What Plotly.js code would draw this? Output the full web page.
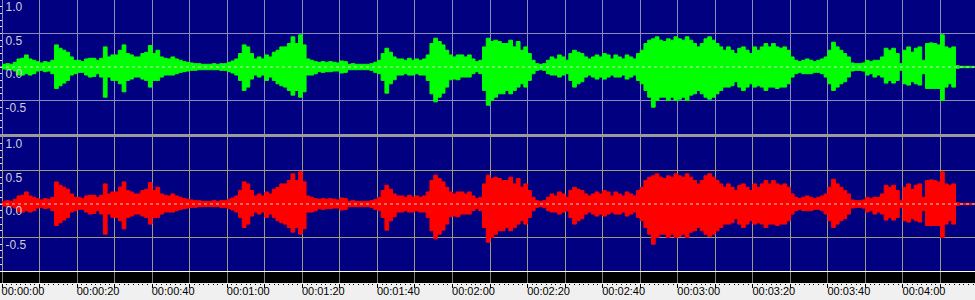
<!DOCTYPE html>
<html><head><meta charset="utf-8">
<script src="https://cdn.plot.ly/plotly-3.0.1.min.js"></script>
<style>html,body{margin:0;padding:0;background:#f0f0f0;overflow:hidden}</style>
</head><body><div id="chart" style="width:975px;height:300px"></div>
<script>
// envelope sample spacing (seconds)
const BIN = 1;
const leftUpper = [
0.04,0.05,0.04,0.07,0.12,0.13,0.18,0.12,0.1,0.08,
0.06,0.08,0.07,0.1,0.33,0.28,0.25,0.22,0.15,0.1,
0.1,0.08,0.12,0.13,0.13,0.1,0.13,0.3,0.15,0.18,
0.18,0.25,0.33,0.2,0.18,0.15,0.15,0.2,0.22,0.32,
0.2,0.25,0.15,0.13,0.12,0.15,0.12,0.1,0.08,0.07,
0.06,0.05,0.05,0.04,0.04,0.04,0.05,0.04,0.05,0.05,
0.07,0.09,0.12,0.2,0.33,0.3,0.2,0.12,0.15,0.12,
0.18,0.15,0.22,0.25,0.3,0.3,0.35,0.45,0.35,0.48,
0.33,0.12,0.1,0.08,0.07,0.08,0.07,0.08,0.07,0.06,
0.09,0.08,0.04,0.05,0.04,0.04,0.04,0.04,0.05,0.07,
0.1,0.2,0.28,0.22,0.15,0.12,0.12,0.1,0.13,0.1,
0.12,0.1,0.12,0.18,0.35,0.43,0.38,0.33,0.25,0.18,
0.15,0.18,0.18,0.15,0.18,0.12,0.08,0.1,0.3,0.43,
0.38,0.4,0.38,0.35,0.35,0.4,0.3,0.38,0.25,0.3,
0.2,0.1,0.05,0.04,0.05,0.1,0.15,0.12,0.18,0.15,
0.1,0.2,0.25,0.22,0.2,0.15,0.12,0.15,0.18,0.15,
0.2,0.18,0.12,0.18,0.15,0.12,0.18,0.15,0.12,0.2,
0.25,0.35,0.4,0.42,0.45,0.4,0.38,0.42,0.4,0.45,
0.42,0.4,0.45,0.4,0.35,0.3,0.35,0.42,0.45,0.4,
0.35,0.3,0.25,0.3,0.25,0.2,0.28,0.3,0.25,0.2,
0.3,0.25,0.3,0.35,0.3,0.35,0.3,0.28,0.3,0.25,
0.15,0.1,0.08,0.1,0.12,0.1,0.08,0.1,0.12,0.15,
0.25,0.37,0.3,0.25,0.2,0.15,0.06,0.05,0.05,0.06,
0.1,0.08,0.1,0.1,0.15,0.28,0.25,0.28,0.2,0.05,
0.25,0.3,0.22,0.28,0.3,0.1,0.35,0.36,0.35,0.33,
0.48,0.3,0.28,0.3,0.02,0.01,0.01,0.01,0.01,0.01];
const leftLower = [
-0.03,-0.04,-0.04,-0.06,-0.12,-0.12,-0.1,-0.12,-0.1,-0.06,
-0.05,-0.07,-0.06,-0.1,-0.32,-0.28,-0.24,-0.2,-0.12,-0.1,
-0.08,-0.08,-0.12,-0.15,-0.14,-0.1,-0.15,-0.45,-0.15,-0.2,
-0.2,-0.25,-0.37,-0.2,-0.18,-0.15,-0.15,-0.18,-0.2,-0.3,
-0.2,-0.2,-0.15,-0.12,-0.12,-0.12,-0.1,-0.08,-0.07,-0.06,
-0.05,-0.05,-0.04,-0.04,-0.04,-0.04,-0.04,-0.04,-0.05,-0.05,
-0.07,-0.09,-0.12,-0.2,-0.35,-0.3,-0.18,-0.12,-0.15,-0.12,
-0.2,-0.15,-0.2,-0.25,-0.28,-0.3,-0.35,-0.42,-0.35,-0.45,
-0.37,-0.12,-0.12,-0.1,-0.07,-0.08,-0.07,-0.07,-0.06,-0.06,
-0.09,-0.08,-0.04,-0.04,-0.04,-0.04,-0.04,-0.04,-0.05,-0.08,
-0.1,-0.2,-0.39,-0.25,-0.19,-0.12,-0.12,-0.1,-0.12,-0.12,
-0.1,-0.12,-0.12,-0.2,-0.4,-0.52,-0.45,-0.39,-0.3,-0.19,
-0.18,-0.19,-0.15,-0.15,-0.15,-0.1,-0.07,-0.1,-0.35,-0.57,
-0.5,-0.45,-0.4,-0.4,-0.35,-0.4,-0.35,-0.3,-0.25,-0.3,
-0.2,-0.1,-0.05,-0.04,-0.05,-0.1,-0.12,-0.12,-0.15,-0.12,
-0.1,-0.2,-0.3,-0.25,-0.22,-0.15,-0.12,-0.15,-0.18,-0.15,
-0.18,-0.15,-0.12,-0.15,-0.15,-0.12,-0.18,-0.15,-0.12,-0.2,
-0.25,-0.35,-0.45,-0.6,-0.5,-0.45,-0.45,-0.5,-0.45,-0.5,
-0.48,-0.45,-0.5,-0.42,-0.4,-0.35,-0.4,-0.45,-0.48,-0.45,
-0.4,-0.35,-0.3,-0.3,-0.28,-0.22,-0.3,-0.35,-0.3,-0.25,
-0.3,-0.28,-0.3,-0.35,-0.3,-0.3,-0.32,-0.3,-0.3,-0.25,
-0.15,-0.1,-0.08,-0.1,-0.1,-0.1,-0.08,-0.08,-0.1,-0.15,
-0.25,-0.35,-0.3,-0.25,-0.22,-0.15,-0.06,-0.05,-0.05,-0.06,
-0.12,-0.1,-0.15,-0.12,-0.15,-0.24,-0.2,-0.24,-0.2,-0.05,
-0.25,-0.27,-0.22,-0.25,-0.27,-0.1,-0.32,-0.32,-0.32,-0.32,
-0.5,-0.3,-0.25,-0.3,-0.02,-0.01,-0.01,-0.01,-0.01,-0.01];
const rightUpper = leftUpper.slice();
const rightLower = leftLower.slice();

const yTickVals = [1, 0.5, 0, -0.5];
const yTickText = ['1.0', '0.5', '0.0', '-0.5'];
const yGridVals = [0.5, -0.5];
const timeMajorTicks = [0,10,20,30,40,50,60,70,80,90,100,110,120,130,140,150,160,170,180,190,200,210,220,230,240,250];
const timeLabelVals = [0,20,40,60,80,100,120,140,160,180,200,220,240];
const timeLabelText = ['00:00:00','00:00:20','00:00:40','00:01:00','00:01:20','00:01:40','00:02:00','00:02:20','00:02:40','00:03:00','00:03:20','00:03:40','00:04:00'];

const timeSec = leftUpper.map((_, i) => i * BIN);

const NAVY = '#000080';
const GREEN = '#00ff00';
const RED = '#ff0000';
const GRID_TOP = '#8c8cb8';
const GRID_BOT = '#9c9c7c';
const XRANGE = [-0.533, 259.19];
const FONT = 'Liberation Sans, Arial, sans-serif';

function envelope(x, up, lo, color, xa, ya) {
  return [
    {x: x, y: up, xaxis: xa, yaxis: ya, type: 'scatter', mode: 'lines',
     line: {color: color, width: 1, shape: 'hv'}, hoverinfo: 'skip', showlegend: false},
    {x: x, y: lo, xaxis: xa, yaxis: ya, type: 'scatter', mode: 'lines', fill: 'tonexty',
     fillcolor: color, line: {color: color, width: 1, shape: 'hv'}, hoverinfo: 'skip', showlegend: false}
  ];
}
function holder(xa, ya) {
  return {x: [XRANGE[0]], y: [-5], xaxis: xa, yaxis: ya, type: 'scatter', mode: 'markers',
          marker: {size: 1, opacity: 0}, hoverinfo: 'skip', showlegend: false};
}

const data = [].concat(
  envelope(timeSec, leftUpper, leftLower, GREEN, 'x', 'y'),
  envelope(timeSec, rightUpper, rightLower, RED, 'x2', 'y2'),
  [holder('x3', 'y3'), holder('x4', 'y3'), holder('x', 'y4'), holder('x2', 'y5')]
);

const H = 300;
const dom = (top, bot) => [1 - bot / H, 1 - top / H];

function panelY(domain, grid, anchor) {
  return {
    domain: domain, anchor: anchor, range: [-1, 1], fixedrange: true,
    tickmode: 'array', tickvals: yGridVals, showticklabels: false, ticks: '',
    showgrid: true, gridcolor: grid, gridwidth: 1, zeroline: false, showline: false
  };
}
function labelY(overlay, anchor) {
  return {
    overlaying: overlay, anchor: anchor, side: 'left', range: [-1, 1], fixedrange: true,
    tickmode: 'array', tickvals: yTickVals, ticktext: yTickText,
    showgrid: false, zeroline: false, showline: false,
    ticks: 'inside', ticklen: 2, tickcolor: '#e0e0e0', tickwidth: 1,
    ticklabelposition: 'inside', ticklabeloverflow: 'allow',
    ticklabelshift: 7, ticklabelstandoff: 3,
    tickfont: {family: FONT, size: 12, color: '#d0d0dc'},
    minor: {dtick: 0.1, ticks: 'inside', ticklen: 2, tickcolor: '#e0e0e0', showgrid: false}
  };
}
function panelX(grid, anchor) {
  return {
    anchor: anchor, range: XRANGE, fixedrange: true,
    tickmode: 'linear', tick0: 0, dtick: 10, showticklabels: false, ticks: '',
    showgrid: true, gridcolor: grid, gridwidth: 1, zeroline: false, showline: false
  };
}

const layout = {
  width: 975, height: 300,
  margin: {l: 0, r: 0, t: 0, b: 0},
  paper_bgcolor: '#f0f0f0', plot_bgcolor: NAVY,
  showlegend: false,
  xaxis: panelX(GRID_TOP, 'y'),
  xaxis2: panelX(GRID_BOT, 'y2'),
  xaxis3: {
    anchor: 'y3', range: XRANGE, fixedrange: true,
    tickmode: 'array', tickvals: timeMajorTicks, showticklabels: false,
    ticks: 'outside', ticklen: 4, tickcolor: '#000', tickwidth: 1,
    showgrid: true, gridcolor: '#808080', zeroline: false, showline: false,
    minor: {dtick: 1.25, ticks: 'outside', ticklen: 1, tickcolor: '#000', showgrid: false}
  },
  xaxis4: {
    overlaying: 'x3', anchor: 'y3', side: 'bottom', range: XRANGE, fixedrange: true,
    tickmode: 'array', tickvals: timeLabelVals, ticktext: timeLabelText,
    ticks: '', ticklabelshift: 21, ticklabelstandoff: 0, ticklabeloverflow: 'allow',
    tickfont: {family: FONT, size: 11, color: '#000'},
    showgrid: false, zeroline: false, showline: false
  },
  yaxis: panelY(dom(0, 134), GRID_TOP, 'x'),
  yaxis2: panelY(dom(137, 271), GRID_BOT, 'x2'),
  yaxis3: {domain: dom(272, 283), anchor: 'x3', range: [0, 1], fixedrange: true, showgrid: false,
           showticklabels: false, ticks: '', zeroline: false, showline: false},
  yaxis4: labelY('y', 'x'),
  yaxis5: labelY('y2', 'x2'),
  shapes: [
    {type: 'rect', xref: 'paper', yref: 'paper', x0: 0, x1: 1, y0: 1 - 137 / H, y1: 1 - 134 / H,
     fillcolor: '#9a9a9a', line: {width: 0}, layer: 'below'},
    {type: 'rect', xref: 'x3 domain', yref: 'y3 domain', x0: 0, x1: 1, y0: 0, y1: 1,
     fillcolor: '#000', line: {width: 0}, layer: 'below'},
    {type: 'line', xref: 'paper', yref: 'paper', x0: 0, x1: 1, y0: 1 - 271.5 / H, y1: 1 - 271.5 / H,
     line: {color: '#ffffff', width: 1}, layer: 'below'},
    {type: 'line', xref: 'x domain', yref: 'y', x0: 0, x1: 1, y0: 0, y1: 0,
     line: {color: '#d8d8c8', width: 1, dash: '3px,3px'}, layer: 'above'},
    {type: 'line', xref: 'x2 domain', yref: 'y2', x0: 0, x1: 1, y0: 0, y1: 0,
     line: {color: '#d8d8c8', width: 1, dash: '3px,3px'}, layer: 'above'}
  ]
};

Plotly.newPlot('chart', data, layout, {staticPlot: true, displayModeBar: false});
</script></body></html>
